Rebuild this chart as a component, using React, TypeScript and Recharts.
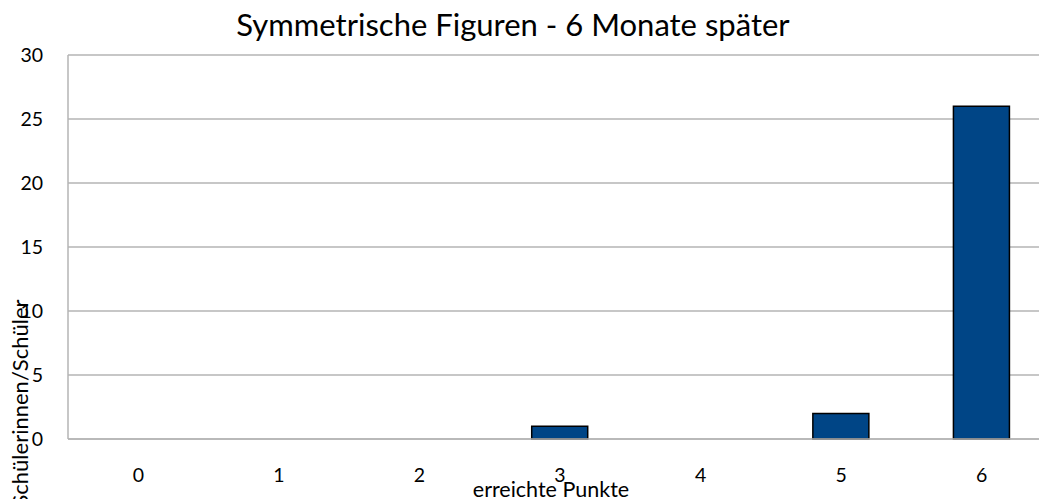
import { Bar, BarChart, CartesianGrid, XAxis, YAxis } from "recharts";

const points = ["0", "1", "2", "3", "4", "5", "6"];
const students = [0, 0, 0, 1, 0, 2, 26];
const yTicks = [0, 5, 10, 15, 20, 25, 30];

const data = points.map((p, i) => ({ punkte: p, anzahl: students[i] }));

const font = "Lato, 'Open Sans', sans-serif";
const grey = "#b4b4b4";

export default function App() {
  return (
    <div
      style={{
        position: "absolute",
        left: 0,
        top: 0,
        width: 1039,
        height: 499,
        overflow: "hidden",
        background: "#fff",
        fontFamily: font,
      }}
    >
      <div
        style={{
          position: "absolute",
          left: 0,
          width: 1026,
          top: 6,
          textAlign: "center",
          fontSize: 31,
          lineHeight: "37px",
          color: "#000",
        }}
      >
        Symmetrische Figuren - 6 Monate später
      </div>
      <BarChart
        width={1052}
        height={499}
        data={data}
        margin={{ top: 55, right: 0, left: 0, bottom: 0 }}
        barSize={56}
      >
        <CartesianGrid vertical={false} stroke={grey} strokeWidth={1.5} />
        <XAxis
          dataKey="punkte"
          height={60}
          tickLine={false}
          tickSize={0}
          tickMargin={29}
          axisLine={{ stroke: grey, strokeWidth: 1.5 }}
          tick={{ fill: "#000", fontSize: 19.5, fontFamily: font }}
          label={{
            value: "erreichte Punkte",
            content: () => (
              <text x={551} y={497} textAnchor="middle" fontSize={21.5} fontFamily={font} fill="#000">
                erreichte Punkte
              </text>
            ),
          }}
        />
        <YAxis
          width={68}
          domain={[0, 30]}
          ticks={yTicks}
          interval={0}
          tickLine={false}
          tickSize={0}
          tickMargin={25}
          axisLine={{ stroke: grey, strokeWidth: 1.5 }}
          tick={{ fill: "#000", fontSize: 19.5, fontFamily: font }}
          label={{
            value: "Schülerinnen/Schüler",
            content: () => (
              <text
                x={0}
                y={0}
                transform="translate(28 403) rotate(-90)"
                textAnchor="middle"
                fontSize={22}
                fontFamily={font}
                fill="#000"
              >
                Schülerinnen/Schüler
              </text>
            ),
          }}
        />
        <Bar dataKey="anzahl" fill="#004586" stroke="#000" strokeWidth={1.5} isAnimationActive={false} />
      </BarChart>
    </div>
  );
}
